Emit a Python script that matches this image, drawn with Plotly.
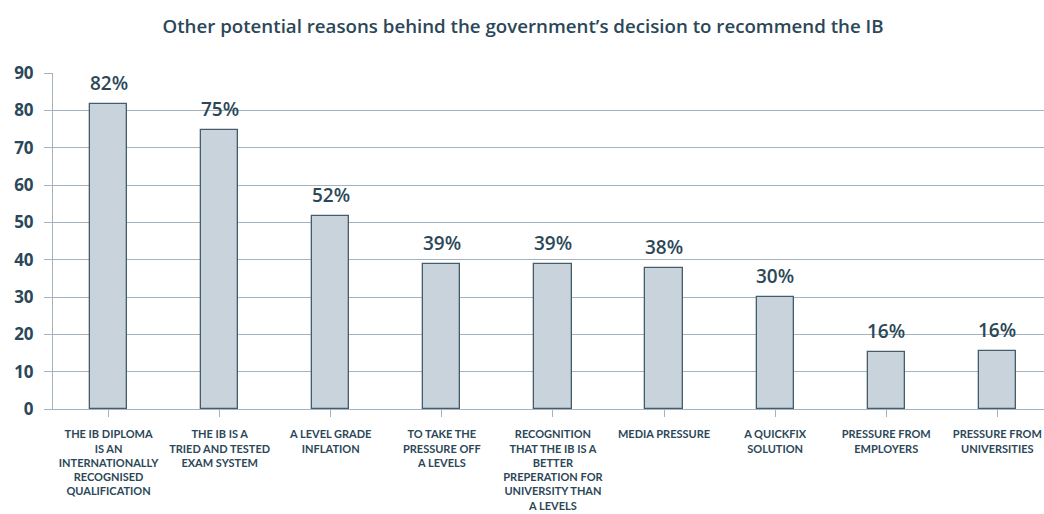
import plotly.graph_objects as go

categories = [
    "THE IB DIPLOMA<br>IS AN<br>INTERNATIONALLY<br>RECOGNISED<br>QUALIFICATION",
    "THE IB IS A<br>TRIED AND TESTED<br>EXAM SYSTEM",
    "A LEVEL GRADE<br>INFLATION",
    "TO TAKE THE<br>PRESSURE OFF<br>A LEVELS",
    "RECOGNITION<br>THAT THE IB IS A<br>BETTER<br>PREPERATION FOR<br>UNIVERSITY THAN<br>A LEVELS",
    "MEDIA PRESSURE",
    "A QUICKFIX<br>SOLUTION",
    "PRESSURE FROM<br>EMPLOYERS",
    "PRESSURE FROM<br>UNIVERSITIES",
]
values = [81.8, 74.8, 51.8, 38.9, 38.9, 37.9, 30.1, 15.4, 15.5]
value_labels = ["82%", "75%", "52%", "39%", "39%", "38%", "30%", "16%", "16%"]
y_ticks = [0, 10, 20, 30, 40, 50, 60, 70, 80, 90]

TEXT = "#2b4758"
GRID = "#a3b3bf"

fig = go.Figure()
fig.add_trace(go.Bar(
    x=list(range(len(categories))), y=values, width=0.334,
    marker=dict(color="#c8d3dc", line=dict(color="#435d6d", width=1.3)),
    hoverinfo="skip",
))
for i, (v, t) in enumerate(zip(values, value_labels)):
    fig.add_annotation(x=i, y=v, text=t, showarrow=False, yanchor="bottom",
                       yshift=6, font=dict(family="Open Sans", size=19, color=TEXT, weight=600))

fig.update_layout(
    width=1044, height=514,
    margin=dict(l=53, r=0, t=73, b=105),
    plot_bgcolor="white", paper_bgcolor="white",
    showlegend=False, bargap=0,
    title=dict(text="Other potential reasons behind the government’s decision to recommend the IB",
               x=0.501, xanchor="center", y=0.948, yanchor="middle",
               font=dict(family="Open Sans", size=18.7, color=TEXT, weight=600)),
)
fig.update_xaxes(
    range=[-0.5, 8.42], tickmode="array", tickvals=list(range(len(categories))),
    ticktext=categories, tickson="boundaries", ticks="outside", ticklen=7,
    tickcolor=GRID, showgrid=False, showline=True, linecolor=GRID, linewidth=1,
    tickfont=dict(family="Lato", size=11, color=TEXT, weight="bold"),
    tickangle=0, fixedrange=True, ticklabelstandoff=8,
)
fig.update_yaxes(
    range=[0, 90], tickvals=y_ticks, ticks="outside", ticklen=8, tickcolor=GRID,
    showgrid=True, gridcolor=GRID, gridwidth=1, showline=True, linecolor=GRID,
    zeroline=False, ticklabelstandoff=7,
    tickfont=dict(family="Open Sans", size=17, color=TEXT, weight="bold"),
)
fig.write_html("out.html")
